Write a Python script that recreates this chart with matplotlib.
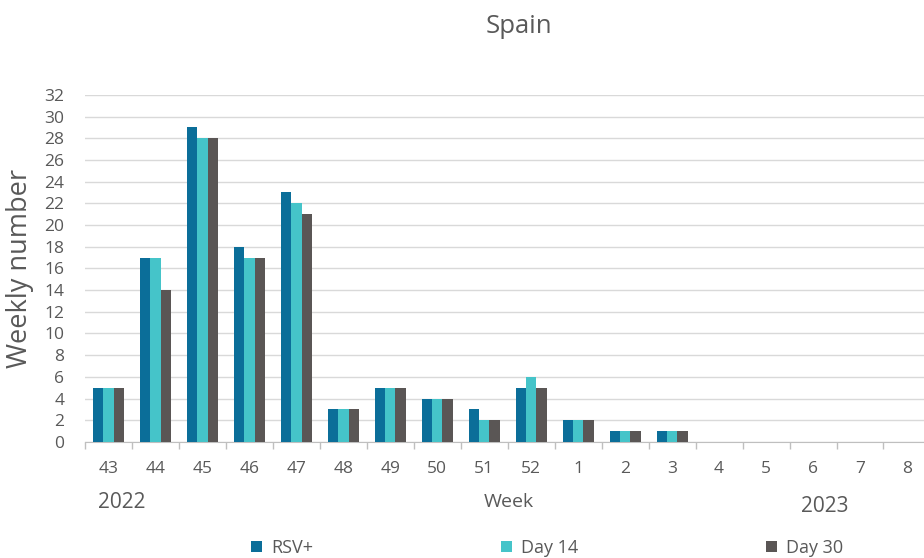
import matplotlib
matplotlib.use("Agg")
import matplotlib.pyplot as plt
import numpy as np

weeks = ["43", "44", "45", "46", "47", "48", "49", "50", "51", "52",
         "1", "2", "3", "4", "5", "6", "7", "8"]
rsv_pos = [5, 17, 29, 18, 23, 3, 5, 4, 3, 5, 2, 1, 1, 0, 0, 0, 0, 0]
day14 = [5, 17, 28, 17, 22, 3, 5, 4, 2, 6, 2, 1, 1, 0, 0, 0, 0, 0]
day30 = [5, 14, 28, 17, 21, 3, 5, 4, 2, 5, 2, 1, 1, 0, 0, 0, 0, 0]
series_names = ["RSV+", "Day 14", "Day 30"]
colors = ["#0b6e99", "#45c4c9", "#5a5655"]

plt.rcParams['font.family'] = ['Open Sans', 'DejaVu Sans']
txt = "#595959"

fig = plt.figure(figsize=(9.24, 5.58), dpi=100)
ax = fig.add_axes([0.092, 0.208, 0.915, 0.622])

x = np.arange(len(weeks))
w = 0.22
for i, (vals, name, c) in enumerate(zip([rsv_pos, day14, day30], series_names, colors)):
    ax.bar(x + (i - 1) * w, vals, width=w, color=c, label=name, zorder=3)

ax.set_xlim(-0.5, len(weeks) - 0.5)
ax.set_ylim(0, 32)
ax.set_yticks(np.arange(0, 33, 2))
ax.tick_params(axis='y', length=0, labelsize=12.5, colors=txt, pad=15)
ax.grid(axis='y', color='#d9d9d9', linewidth=1, zorder=0)

ax.set_xticks(x)
ax.set_xticklabels(weeks)
ax.set_xticks(np.arange(-0.5, len(weeks), 1), minor=True)
ax.tick_params(axis='x', which='major', length=0, labelsize=12.5, colors=txt, pad=14)
ax.tick_params(axis='x', which='minor', length=5, color='#bfbfbf', width=1)

for s in ['top', 'right', 'left']:
    ax.spines[s].set_visible(False)
ax.spines['bottom'].set_color('#bfbfbf')

ax.set_ylabel("Weekly number", fontsize=19.5, color=txt)
ax.yaxis.set_label_coords(-0.06, 0.5)

fig.text(0.562, 0.952, "Spain", fontsize=18.5, color=txt, ha='center', va='center')
fig.text(0.132, 0.100, "2022", fontsize=15, color=txt, ha='center', va='center')
fig.text(0.551, 0.100, "Week", fontsize=14, color=txt, ha='center', va='center')
fig.text(0.893, 0.093, "2023", fontsize=15, color=txt, ha='center', va='center')

leg = fig.legend(*ax.get_legend_handles_labels(), loc='center', bbox_to_anchor=(0.592, 0.018),
                 ncol=3, frameon=False, fontsize=13, handlelength=0.6, handleheight=0.6,
                 columnspacing=10.4, handletextpad=0.5, labelcolor=txt)

fig.savefig("out.png", dpi=100)
